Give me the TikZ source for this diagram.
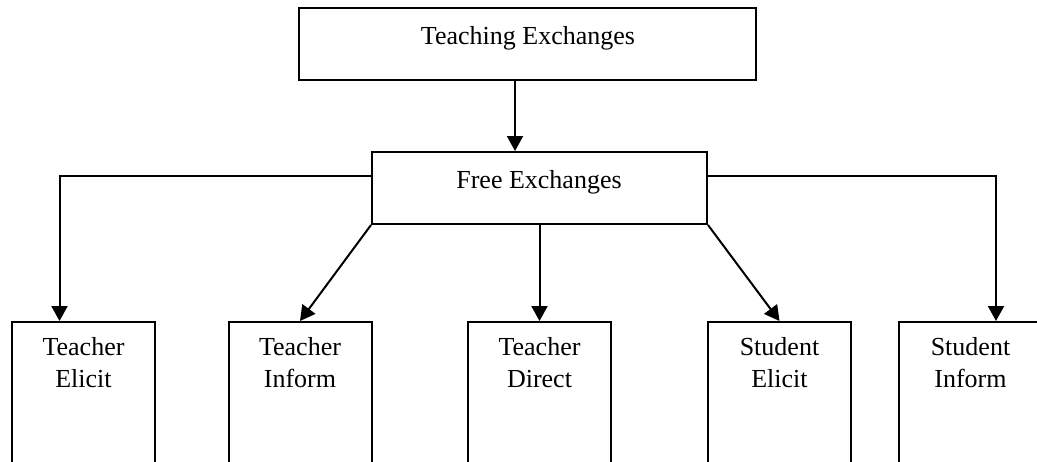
\documentclass[tikz,border=0pt]{standalone}
\usepackage{fontspec}
\setmainfont{Liberation Serif}
\usetikzlibrary{arrows.meta}
\begin{document}
\begin{tikzpicture}[x=1pt,y=-1pt,
  box/.style={draw,line width=2pt,rectangle,inner sep=0pt},
  lbl/.style={inner sep=0pt,align=center,font=\fontsize{26}{32}\selectfont},
  arr/.style={line width=2pt,-{Triangle[length=15pt,width=16pt]}}]
\clip (0,0) rectangle (1037,461);
\fill[white] (0,0) rectangle (1037,461);
% top boxes
\node[box,minimum width=457pt,minimum height=72pt] (top) at (527.5,44) {};
\node[lbl,anchor=base] (toptxt) at (528,44) {Teaching Exchanges};
\node[box,minimum width=335pt,minimum height=72pt] (free) at (539.5,188) {};
\node[lbl,anchor=base] (freetxt) at (539,188) {Free Exchanges};
% bottom boxes
\foreach \n/\x in {b1/83.5,b2/300,b3/539.5,b4/779.5,b5/970.5}{
  \node[box,minimum width=143pt,minimum height=220pt,anchor=north] (\n) at (\x,321) {};
}
\node[lbl,anchor=north] (t1) at ([yshift=-16]b1.north) {Teacher\\Elicit};
\node[lbl,anchor=north] (t2) at ([yshift=-16]b2.north) {Teacher\\Inform};
\node[lbl,anchor=north] (t3) at ([yshift=-16]b3.north) {Teacher\\Direct};
\node[lbl,anchor=north] (t4) at ([yshift=-16]b4.north) {Student\\Elicit};
\node[lbl,anchor=north] (t5) at ([yshift=-16]b5.north) {Student\\Inform};
% connectors
\draw[arr] ([xshift=-12.5]top.south) -- ([xshift=-12.5]top.south |- free.north);
\draw[arr] ([yshift=12]free.west) -| ([xshift=-24]b1.north);
\draw[arr] ([yshift=12]free.east) -| ([xshift=25.5]b5.north);
\draw[arr] (free.south west) -- (b2.north);
\draw[arr] (free.south) -- (b3.north);
\draw[arr] (free.south east) -- (b4.north);
\end{tikzpicture}
\end{document}
